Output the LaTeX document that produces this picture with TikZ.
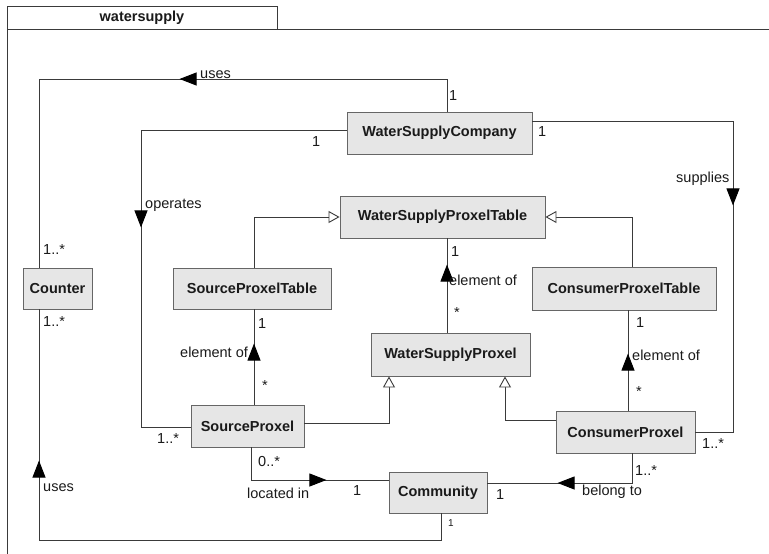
\documentclass[tikz,border=0pt]{standalone}
\usepackage{fontspec}
\setmainfont{Liberation Sans}
\usetikzlibrary{arrows.meta,decorations.markings}
\definecolor{boxfill}{HTML}{E6E6E6}
\definecolor{boxline}{HTML}{666666}
\definecolor{wire}{HTML}{3A3A3A}
\definecolor{txt}{HTML}{1A1A1A}

\begin{document}
\begin{tikzpicture}[x=1pt,y=-1pt,
    cls/.style={draw=boxline,fill=boxfill,line width=0.9pt,inner sep=0pt,text=txt,font=\fontsize{14.5}{17}\selectfont\bfseries},
    conn/.style={wire,line width=0.9pt},
    gen/.style={conn,-{Triangle[open,length=11pt,width=12pt,fill=white]}},
    nav/.style={conn,postaction={decorate,decoration={markings,mark=at position #1 with {\arrow{Triangle[length=17pt,width=13pt,black]}}}}},
    lbl/.style={anchor=base west,inner sep=0pt,text=txt,font=\fontsize{14.5}{17}\selectfont}]
    \useasboundingbox (0,0) rectangle (769,554);
    % package frame
    \draw[conn] (7,554) -- (7,6) -- (277,6) -- (277,29);
    \draw[conn] (7,29) -- (769,29);
    \node[text=txt,font=\fontsize{14.5}{17}\selectfont\bfseries] (pkg) at (142,17.5) {watersupply};
    % classes
    \node[cls,minimum width=185pt,minimum height=42pt] (company) at (439.5,133) {WaterSupplyCompany};
    \node[cls,minimum width=205pt,minimum height=42pt] (wsptable) at (442.5,217) {WaterSupplyProxelTable};
    \node[cls,minimum width=184pt,minimum height=43pt] (cptable) at (624,288.5) {ConsumerProxelTable};
    \node[cls,minimum width=69pt,minimum height=41pt] (counter) at (57.5,288.5) {Counter};
    \node[cls,minimum width=158pt,minimum height=41pt] (sptable) at (252,288.5) {SourceProxelTable};
    \node[cls,minimum width=159pt,minimum height=43pt] (wsproxel) at (450.5,354.5) {WaterSupplyProxel};
    \node[cls,minimum width=113pt,minimum height=42pt] (sproxel) at (247.5,426) {SourceProxel};
    \node[cls,minimum width=139pt,minimum height=42pt] (cproxel) at (625.5,432) {ConsumerProxel};
    \node[cls,minimum width=98pt,minimum height=41pt] (community) at (438,492.5) {Community};
    % associations
    \coordinate (usesbend) at (39,79);
    \draw[nav=300pt] ([xshift=7.5pt]company.north) |- (usesbend) -- ([xshift=-18.5pt]counter.north);
    \coordinate (opbend) at (141,130);
    \draw[nav=303pt] ([yshift=3pt]company.west) -- (opbend) |- ([yshift=-1pt]sproxel.west);
    \coordinate (supbend) at (733,121);
    \draw[nav=285pt] ([yshift=12pt]company.east) -- (supbend) |- (cproxel.east);
    \draw[nav=68pt] ([xshift=-3.5pt]wsproxel.north) -- ([xshift=4.5pt]wsptable.south);
    \draw[nav=61pt] ([xshift=6.5pt]sproxel.north) -- ([xshift=2pt]sptable.south);
    \draw[nav=57pt] ([xshift=2.5pt]cproxel.north) -- ([xshift=4pt]cptable.south);
    \draw[nav=108pt] ([xshift=3.5pt]sproxel.south) |- ([yshift=12.5pt]community.west);
    \draw[nav=104pt] ([xshift=6.5pt]cproxel.south) |- ([yshift=9.5pt]community.east);
    \coordinate (usesbottom) at (39,540);
    \draw[nav=508pt] ([xshift=3pt]community.south) |- (usesbottom) -- ([xshift=-18.5pt]counter.south);
    % generalizations
    \draw[gen] ([xshift=2pt]sptable.north) |- (wsptable.west);
    \draw[gen] ([xshift=8pt]cptable.north) |- (wsptable.east);
    \draw[gen] ([yshift=3pt]sproxel.east) -| ([xshift=-61.5pt]wsproxel.south);
    \draw[gen] ([yshift=12pt]cproxel.west) -| ([xshift=54.5pt]wsproxel.south);
    % role names
    \node[lbl] (usestop) at (200,78) {uses};
    \node[lbl] (oplbl) at (145,208) {operates};
    \node[lbl] (suplbl) at (676,182) {supplies};
    \node[lbl] (elwsp) at (449,285) {element of};
    \node[lbl] (elsp) at (180,357) {element of};
    \node[lbl] (elcp) at (632,360) {element of};
    \node[lbl] (loclbl) at (247,498) {located in};
    \node[lbl] (bellbl) at (582,495) {belong to};
    \node[lbl] (usesbot) at (43,491) {uses};
    % multiplicities
    \node[lbl] (mcomptop) at (449,100) {1};
    \node[lbl] (mcompleft) at (312,146) {1};
    \node[lbl] (mcompright) at (538,136) {1};
    \node[lbl] (mcounttop) at (43,254) {1..*};
    \node[lbl] (mcountbot) at (43,326) {1..*};
    \node[lbl] (msprleft) at (157,443) {1..*};
    \node[lbl] (mcprright) at (702,448) {1..*};
    \node[lbl] (mwspt) at (451,256) {1};
    \node[lbl] (mwsp) at (454,317) {*};
    \node[lbl] (mspt) at (258,328) {1};
    \node[lbl] (msprtop) at (262,390) {*};
    \node[lbl] (mcpt) at (636,327) {1};
    \node[lbl] (mcprtop) at (636,396) {*};
    \node[lbl] (msprbot) at (258,466) {0..*};
    \node[lbl] (mcomleft) at (353,495) {1};
    \node[lbl] (mcprbot) at (635,475) {1..*};
    \node[lbl] (mcomright) at (496,499) {1};
    \node[lbl,font=\fontsize{10}{12}\selectfont] (mcombot) at (448,526) {1};
\end{tikzpicture}
\end{document}
